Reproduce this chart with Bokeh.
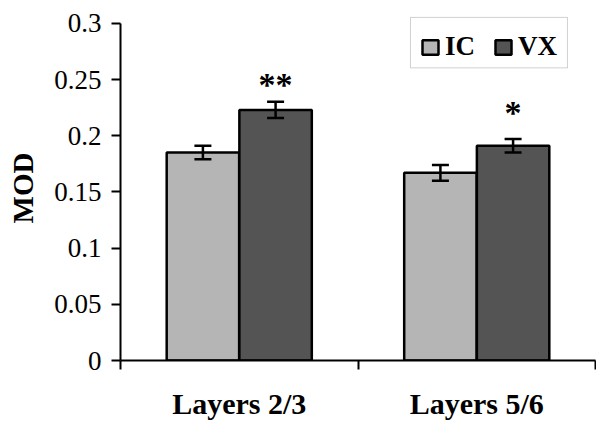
from bokeh.plotting import figure
from bokeh.models import (Range1d, FixedTicker, Legend, LegendItem, Whisker,
                          ColumnDataSource, TeeHead, Label, LinearAxis, BoxAnnotation)
from bokeh.embed import file_html
from bokeh.resources import INLINE

# ---- data ----
categories = ["Layers 2/3", "Layers 5/6"]
series = ["IC", "VX"]
ic_values = [0.185, 0.167]
vx_values = [0.223, 0.191]
ic_errors = [0.006, 0.007]
vx_errors = [0.0072, 0.006]
significance = ["**", "*"]
sig_y = [0.246, 0.221]
y_ticks = [0, 0.05, 0.1, 0.15, 0.2, 0.25, 0.3]
y_tick_labels = ["0", "0.05", "0.1", "0.15", "0.2", "0.25", "0.3"]

# ---- style ----
FONT = "Liberation Serif"
IC_COLOR = "#b5b5b5"
VX_COLOR = "#545454"
BAR_W = 0.305
OFFS = 0.153
Y_MAX = 0.3
Y_VIEW = 0.307            # a little headroom above the axis for the legend frame
LEG_BOX = dict(left=1.221, right=1.882, top=0.3053, bottom=0.2604)

centers = [i + 0.5 for i in range(len(categories))]
ic_x = [c - OFFS for c in centers]
vx_x = [c + OFFS for c in centers]

p = figure(width=596, height=422, x_range=Range1d(0, len(categories)),
           y_range=Range1d(0, Y_VIEW), output_backend="svg", toolbar_location=None,
           min_border_left=120, min_border_right=1, min_border_top=15,
           min_border_bottom=58)
p.background_fill_color = "white"
p.border_fill_color = "white"
p.outline_line_color = None
p.xgrid.visible = False
p.ygrid.visible = False

ic_src = ColumnDataSource(dict(x=ic_x, top=ic_values,
                               upper=[v + e for v, e in zip(ic_values, ic_errors)],
                               lower=[v - e for v, e in zip(ic_values, ic_errors)]))
vx_src = ColumnDataSource(dict(x=vx_x, top=vx_values,
                               upper=[v + e for v, e in zip(vx_values, vx_errors)],
                               lower=[v - e for v, e in zip(vx_values, vx_errors)]))

r_ic = p.vbar(x="x", top="top", width=BAR_W, source=ic_src, fill_color=IC_COLOR,
              line_color="black", line_width=2.5)
r_vx = p.vbar(x="x", top="top", width=BAR_W, source=vx_src, fill_color=VX_COLOR,
              line_color="black", line_width=2.5)

for src in (ic_src, vx_src):
    w = Whisker(source=src, base="x", upper="upper", lower="lower",
                line_width=2.5, line_color="black", level="annotation",
                upper_head=TeeHead(size=17, line_width=2.5, line_color="black"),
                lower_head=TeeHead(size=17, line_width=2.5, line_color="black"))
    p.add_layout(w)

# significance stars
for x, y, s in zip(vx_x, sig_y, significance):
    p.add_layout(Label(x=x, y=y, text=s, text_font=FONT, text_font_style="bold",
                       text_font_size="34px", text_align="center",
                       text_baseline="middle", text_color="black"))

# y axis
yax = p.yaxis[0]
yax.bounds = (0, Y_MAX)
yax.ticker = FixedTicker(ticks=y_ticks)
yax.major_label_overrides = dict(zip(y_ticks, y_tick_labels))
yax.major_label_text_font = FONT
yax.major_label_text_font_size = "27px"
yax.major_label_text_color = "black"
yax.major_label_standoff = 10
yax.axis_line_width = 2
yax.axis_line_color = "black"
yax.major_tick_line_width = 2
yax.major_tick_line_color = "black"
yax.major_tick_out = 9
yax.major_tick_in = 0
yax.minor_tick_line_color = None
yax.axis_label = "MOD"
yax.axis_label_text_font = FONT
yax.axis_label_text_font_style = "bold"
yax.axis_label_text_font_size = "29px"
yax.axis_label_text_color = "black"
yax.axis_label_standoff = 12

# x axis: boundary ticks without labels
xax = p.xaxis[0]
xax.ticker = FixedTicker(ticks=list(range(len(categories) + 1)))
xax.major_label_overrides = {i: "" for i in range(len(categories) + 1)}
xax.major_label_text_font_size = "1px"
xax.major_label_standoff = 0
xax.axis_line_width = 2
xax.axis_line_color = "black"
xax.major_tick_line_width = 2
xax.major_tick_line_color = "black"
xax.major_tick_out = 9
xax.major_tick_in = 0
xax.minor_tick_line_color = None

# second axis below: category names at category centres
cax = LinearAxis(ticker=FixedTicker(ticks=centers),
                 major_label_overrides=dict(zip(centers, categories)),
                 axis_line_color=None, major_tick_line_color=None,
                 minor_tick_line_color=None, major_tick_out=0, major_tick_in=0,
                 major_label_standoff=17,
                 major_label_text_font=FONT, major_label_text_font_style="bold",
                 major_label_text_font_size="30px", major_label_text_color="black")
p.add_layout(cax, "below")

legend = Legend(items=[LegendItem(label=series[0], renderers=[r_ic]),
                       LegendItem(label=series[1], renderers=[r_vx])],
                location=(300, 298), orientation="horizontal", margin=0,
                padding=12, spacing=18, label_standoff=5,
                glyph_width=20, glyph_height=18,
                label_text_font=FONT, label_text_font_style="bold",
                label_text_font_size="27px", label_text_color="black",
                border_line_color=None, background_fill_alpha=0)
p.add_layout(legend)

# legend frame
p.add_layout(BoxAnnotation(**LEG_BOX, fill_alpha=0, line_color="#666666",
                           line_width=1, level="overlay"))

open("out.html", "w").write(file_html(p, INLINE))
